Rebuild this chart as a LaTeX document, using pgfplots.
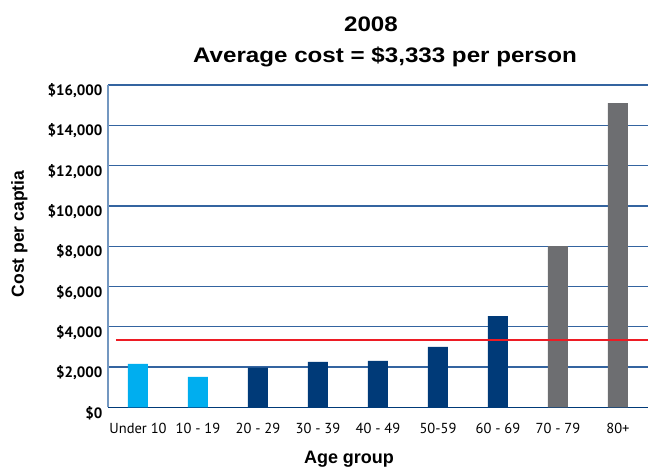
\documentclass[border=0pt]{standalone}
\usepackage{fontspec}
\setmainfont{Liberation Sans}
\newfontfamily\ptsans{PT Sans}
\usepackage{pgfplots}
\pgfplotsset{compat=1.18}
\definecolor{lb}{HTML}{00AEEF}
\definecolor{navy}{HTML}{003A78}
\definecolor{gr}{HTML}{6D6E71}
\definecolor{rd}{HTML}{ED1C24}
\definecolor{gridc}{HTML}{3464A0}
\definecolor{axc}{HTML}{7397C0}
\begin{document}
\begin{tikzpicture}
\useasboundingbox (-108pt,-61.7pt) rectangle (540pt,407.3pt);
\begin{axis}[
  at={(0pt,0pt)}, anchor=south west,
  scale only axis, width=540pt, height=322.3pt,
  xmin=-0.5, xmax=8.5, ymin=0, ymax=16000,
  scaled y ticks=false,
  axis x line=bottom, axis y line=left,
  x axis line style={-, draw=navy, line width=1.3pt},
  y axis line style={-, draw=axc, line width=1.5pt},
  xtick={0,...,8},
  xticklabels={Under 10,10 - 19,20 - 29,30 - 39,40 - 49,50-59,60 - 69,70 - 79,80+},
  ytick={0,2000,4000,6000,8000,10000,12000,14000,16000},
  yticklabels={{\$0},{\$2,000},{\$4,000},{\$6,000},{\$8,000},{\$10,000},{\$12,000},{\$14,000},{\$16,000}},
  major tick length=0pt,
  ymajorgrids, grid style={gridc, line width=1.3pt},
  xticklabel style={font=\ptsans\fontsize{14.5}{14.5}\selectfont, anchor=base, yshift=-26pt},
  yticklabel style={font=\ptsans\bfseries\fontsize{15}{15}\selectfont, anchor=base east, yshift=-10.7pt, xshift=-2pt},
  clip=false,
]
\addplot[ybar, bar width=20pt, bar shift=0pt, fill=lb, draw=none] coordinates {(0,2160) (1,1510)};
\addplot[ybar, bar width=20pt, bar shift=0pt, fill=navy, draw=none] coordinates {(2,1975) (3,2257) (4,2307) (5,3000) (6,4530)};
\addplot[ybar, bar width=20pt, bar shift=0pt, fill=gr, draw=none] coordinates {(7,8000) (8,15100)};
\addplot[rd, line width=2pt] coordinates {(-0.367,3333) (8.5,3333)};
\end{axis}
\node[anchor=base, font=\bfseries\fontsize{21}{21}\selectfont] at (263pt,375.3pt) {\scalebox{1.15}[1]{2008}};
\node[anchor=base, font=\bfseries\fontsize{21}{21}\selectfont] at (277pt,344.3pt) {\scalebox{1.15}[1]{Average cost = \$3,333 per person}};
\node[rotate=90, anchor=base, font=\bfseries\fontsize{17.5}{17.5}\selectfont] at (-84pt,173.3pt) {Cost per captia};
\node[anchor=base, font=\bfseries\fontsize{18}{18}\selectfont] at (241pt,-56.5pt) {Age group};
\end{tikzpicture}
\end{document}
